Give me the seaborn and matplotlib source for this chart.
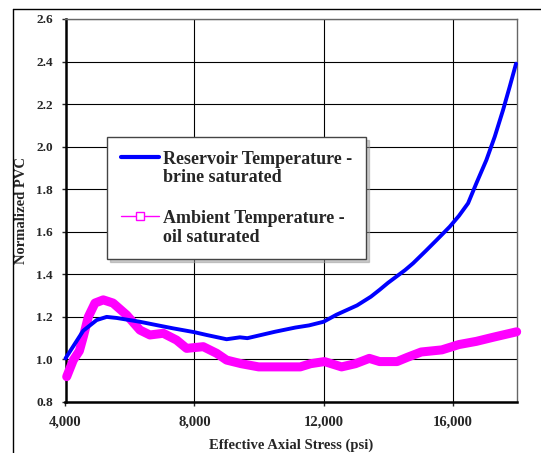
import matplotlib
matplotlib.use("Agg")
import matplotlib.pyplot as plt
import numpy as np
import pandas as pd
import seaborn as sns
from matplotlib.legend_handler import HandlerLine2D
from matplotlib.lines import Line2D

# ---------------------------------------------------------------------------
# DATA
# ---------------------------------------------------------------------------
reservoir_stress = [4000, 4550, 4966, 5276, 5586, 6309, 6870, 7341, 8000, 8375,
                    8995, 9408, 9640, 10490, 11130, 11550, 12000, 12400, 13040,
                    13470, 13746, 14000, 14530, 14778, 15170, 15500, 15915, 16200,
                    16483, 16740, 17050, 17310, 17567, 17774, 17970]
reservoir_pvc = [1.005, 1.135, 1.185, 1.20, 1.195, 1.177, 1.16, 1.146, 1.128, 1.115,
                 1.095, 1.104, 1.10, 1.13, 1.15, 1.16, 1.177, 1.21, 1.254,
                 1.295, 1.328, 1.36, 1.42, 1.452, 1.51, 1.56, 1.624, 1.675,
                 1.734, 1.828, 1.937, 2.047, 2.172, 2.282, 2.39]

ambient_stress = [4037, 4242, 4430, 4552, 4707, 4914, 5171, 5474, 5896, 6309,
                  6618, 7031, 7444, 7755, 8271, 8685, 8995, 9450,
                  9990, 10530, 11280, 11600, 12030, 12560, 12990, 13420, 13740,
                  14280, 14600, 15030, 15670, 16200, 16740, 17280, 17990]
ambient_pvc = [0.919, 0.997, 1.04, 1.107, 1.20, 1.265, 1.28, 1.265, 1.209, 1.138,
               1.115, 1.123, 1.091, 1.052, 1.06, 1.029, 0.997, 0.98,
               0.965, 0.965, 0.965, 0.98, 0.99, 0.965, 0.98, 1.005, 0.99,
               0.99, 1.01, 1.035, 1.045, 1.07, 1.085, 1.105, 1.13]

x_ticks = [4000, 8000, 12000, 16000]
y_ticks = [0.8, 1.0, 1.2, 1.4, 1.6, 1.8, 2.0, 2.2, 2.4, 2.6]

BLUE = "#0000ff"
MAGENTA = "#ff00ff"
LEGEND_SIZE = 13


class TopLineHandler(HandlerLine2D):
    """Legend handle aligned with the first line of a two-line label."""

    def create_artists(self, legend, orig_handle, xdescent, ydescent,
                       width, height, fontsize, trans):
        artists = super().create_artists(legend, orig_handle, xdescent, ydescent,
                                         width, height, fontsize, trans)
        for a in artists:
            a.set_ydata(np.asarray(a.get_ydata()) + 0.65 * fontsize)
        return artists


sns.set_style("white")
plt.rcParams["font.family"] = ["Liberation Serif", "DejaVu Serif"]
plt.rcParams["font.weight"] = "bold"

reservoir = pd.DataFrame({"stress": reservoir_stress, "pvc": reservoir_pvc})
ambient = pd.DataFrame({"stress": ambient_stress, "pvc": ambient_pvc})

fig = plt.figure(figsize=(5.41, 4.53), dpi=100)
ax = fig.add_axes([65.5 / 541, 1 - 402 / 453, 451.5 / 541, 383 / 453])

sns.lineplot(data=ambient, x="stress", y="pvc", ax=ax, color=MAGENTA,
             linewidth=6.5, solid_capstyle="round", solid_joinstyle="round",
             zorder=3, clip_on=False)
sns.lineplot(data=reservoir, x="stress", y="pvc", ax=ax, color=BLUE,
             linewidth=2.8, solid_capstyle="round", zorder=4, clip_on=False)

ax.set_xlim(4000, 18000)
ax.set_ylim(0.8, 2.6)
ax.set_xticks(x_ticks)
ax.set_xticklabels([f"{t:,}" for t in x_ticks])
ax.set_yticks(y_ticks)
ax.set_yticklabels([f"{t:.1f}" for t in y_ticks])
ax.tick_params(axis="x", labelsize=10.5, length=3, width=1, pad=7, direction="out")
ax.tick_params(axis="y", labelsize=9.5, length=3, width=1, pad=6, direction="out")
ax.tick_params(bottom=True, left=True)
for lbl in ax.get_xticklabels() + ax.get_yticklabels():
    lbl.set_fontweight("bold")

ax.grid(True, color="black", linewidth=0.8)
ax.set_axisbelow(True)
for side in ["left", "bottom"]:
    ax.spines[side].set_color("black")
    ax.spines[side].set_linewidth(1.8)
for side in ["top", "right"]:
    ax.spines[side].set_color("#666666")
    ax.spines[side].set_linewidth(1.0)

ax.set_xlabel("Effective Axial Stress (psi)", fontsize=10.5, fontweight="bold", labelpad=7)
ax.set_ylabel("Normalized PVC", fontsize=10.5, fontweight="bold", labelpad=6)

handles = [
    Line2D([], [], color=BLUE, linewidth=3),
    Line2D([], [], color=MAGENTA, linewidth=1, marker="s", markersize=6,
           markerfacecolor="white", markeredgecolor=MAGENTA),
]
labels = ["Reservoir Temperature -\nbrine saturated",
          "Ambient Temperature -\noil saturated"]
leg = ax.legend(handles, labels, loc="upper left", bbox_to_anchor=(0.093, 0.692),
                frameon=True, fancybox=False, shadow={"color": "#999999", "ox": 2, "oy": -2},
                prop={"weight": "bold", "size": LEGEND_SIZE}, handlelength=2.1,
                handletextpad=0.25, labelspacing=1.3, borderpad=0.75,
                borderaxespad=0, handler_map={Line2D: TopLineHandler()})
leg.get_frame().set_edgecolor("#444444")
leg.get_frame().set_linewidth(1.0)
for txt in leg.get_texts():
    txt.set_linespacing(1.15)

# outer frame of the original figure
fig.add_artist(Line2D([13 / 541, 13 / 541], [0, 1 - 9 / 453], color="black",
                      linewidth=1.0, transform=fig.transFigure))
fig.add_artist(Line2D([13 / 541, 1], [1 - 9 / 453, 1 - 9 / 453], color="black",
                      linewidth=1.0, transform=fig.transFigure))

fig.savefig("out.png", dpi=100, facecolor="white")
